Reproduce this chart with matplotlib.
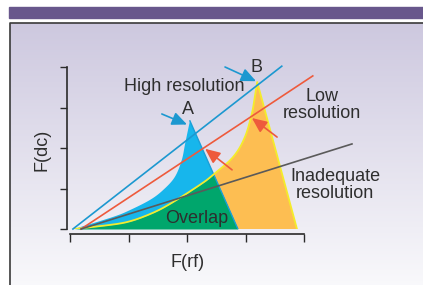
import numpy as np
import matplotlib
matplotlib.use('Agg')
import matplotlib.pyplot as plt
from matplotlib.patches import Rectangle

plt.rcParams['font.family'] = ['Liberation Sans', 'DejaVu Sans']

# peak outlines in (F(rf), F(dc)) units: left flank up to apex, then right foot
peak_a_x = [0.07, 0.74, 1.03, 1.37, 1.59, 1.79, 1.91, 1.97, 2.05, 2.87]
peak_a_y = [0.00, 0.30, 0.47, 0.72, 0.96, 1.28, 1.70, 2.12, 2.67, 0.00]
peak_b_x = [0.07, 0.51, 0.97, 1.37, 1.71, 2.22, 2.44, 2.79, 2.99, 3.11, 3.15, 3.20, 3.88]
peak_b_y = [0.00, 0.07, 0.17, 0.37, 0.62, 1.09, 1.33, 1.78, 2.27, 2.86, 3.19, 3.63, 0.00]

# resolution lines (start on baseline, end point)
line_x0 = [0.05, 0.19, 0.19]
line_x1 = [3.62, 4.15, 4.82]
line_y1 = [4.02, 3.78, 2.10]
line_colors = ['#1c98d0', '#ee5a3c', '#5a5a5a']

# arrows: tail -> tip
arrow_tail = [(1.57, 2.84), (2.65, 4.00), (2.77, 1.46), (3.54, 2.27)]
arrow_tip = [(2.00, 2.58), (3.18, 3.65), (2.31, 1.98), (3.11, 2.74)]
arrow_colors = ['#1c98d0', '#1c98d0', '#ee5a3c', '#ee5a3c']

labels = ['High resolution', 'A', 'B', 'Low\nresolution', 'Inadequate\nresolution', 'Overlap']
label_x = [1.95, 2.02, 3.18, 4.31, 4.53, 2.17]
label_y = [3.51, 2.94, 4.00, 3.06, 1.09, 0.27]

ticks = [0, 1, 2, 3, 4]


def smooth_flank(xs, ys, n=25):
    # Catmull-Rom through the read points of a flank, then back to the foot
    pts = np.column_stack([xs[:-1], ys[:-1]])
    p = np.vstack([pts[0], pts, pts[-1]])
    out = []
    t = np.linspace(0, 1, n, endpoint=False)[:, None]
    for i in range(1, len(p) - 2):
        p0, p1, p2, p3 = p[i - 1], p[i], p[i + 1], p[i + 2]
        out.append(0.5 * (2 * p1 + (p2 - p0) * t + (2 * p0 - 5 * p1 + 4 * p2 - p3) * t ** 2
                          + (3 * p1 - p0 - 3 * p2 + p3) * t ** 3))
    out.append(pts[-1][None])
    out.append([[xs[-1], ys[-1]]])
    c = np.vstack(out)
    c[:-1, 0] = np.maximum.accumulate(c[:-1, 0])
    return c[:, 0], c[:, 1]


W, H = 423, 285
fig = plt.figure(figsize=(W / 100, H / 100), dpi=100)

# background panel
bg = fig.add_axes([0, 0, 1, 1])
bg.set_xlim(0, W)
bg.set_ylim(H, 0)
bg.axis('off')
grad = np.linspace(0, 1, 256)[:, None]
top = np.array([0.805, 0.785, 0.875])
bot = np.array([0.975, 0.975, 0.985])
img = top + (bot - top) * grad[:, :, None]
bg.imshow(img, extent=[9.5, W, H, 23], aspect='auto', zorder=0)
bg.add_patch(Rectangle((9, 7), W - 9, 11, color='#68578c', zorder=1))
bg.plot([9.5, 9.5, W], [H, 23, 23], color='#3a3a3a', lw=1.2, zorder=2)

ax = fig.add_axes([70 / W, 56 / H, 234 / W, 162 / H])
ax.set_facecolor('none')
ax.set_xlim(0, 4)
ax.set_ylim(0, 4)

ax_x, ax_y = smooth_flank(peak_a_x, peak_a_y)
bx_x, bx_y = smooth_flank(peak_b_x, peak_b_y)

ax.fill(bx_x, bx_y, color='#fdbe52', lw=0, zorder=1)
ax.fill(ax_x, ax_y, color='#17b6ec', lw=0, zorder=2)
xg = np.linspace(peak_a_x[0], peak_a_x[-1], 600)
overlap = np.minimum(np.interp(xg, ax_x, ax_y), np.interp(xg, bx_x, bx_y))
ax.fill_between(xg, 0, overlap, color='#00a66c', lw=0, zorder=3)
ax.plot(peak_a_x[-2:], peak_a_y[-2:], color='#1a9fd8', lw=1.0, zorder=4)
ax.plot(bx_x, bx_y, color='#f4ec2b', lw=1.3, zorder=4)

for x0, x1, y1, c in zip(line_x0, line_x1, line_y1, line_colors):
    ax.plot([x0, x1], [0, y1], color=c, lw=1.2, zorder=5, clip_on=False)

for tl, hd, c in zip(arrow_tail, arrow_tip, arrow_colors):
    ax.annotate('', xy=hd, xytext=tl, zorder=6, annotation_clip=False,
                arrowprops=dict(arrowstyle='-|>,head_length=0.9,head_width=0.4',
                                color=c, lw=1.2, shrinkA=0, shrinkB=0))

for s, x, y in zip(labels, label_x, label_y):
    ax.text(x, y, s, ha='center', va='center', fontsize=13, color='#2e2e2e',
            linespacing=1.05, zorder=7)

for side in ['top', 'right']:
    ax.spines[side].set_visible(False)
ax.spines['left'].set_position(('outward', 2.2))
ax.spines['bottom'].set_position(('outward', 3.4))
ax.spines['left'].set_bounds(0, 4)
ax.spines['bottom'].set_bounds(0, 4)
for side in ['left', 'bottom']:
    ax.spines[side].set_color('#2a2a2a')
    ax.spines[side].set_linewidth(1.2)
ax.set_xticks(ticks)
ax.set_yticks(ticks)
ax.tick_params(axis='both', direction='out', color='#2a2a2a', width=1.0,
               labelbottom=False, labelleft=False)
ax.tick_params(axis='x', length=5.8)
ax.tick_params(axis='y', length=5.0)

ax.set_xlabel('F(rf)', fontsize=13, color='#2e2e2e', va='center')
ax.xaxis.set_label_coords(0.504, -0.204)
ax.set_ylabel('F(dc)', fontsize=13, color='#2e2e2e', va='center')
ax.yaxis.set_label_coords(-0.12, 0.488)

fig.savefig('out.png', dpi=100)
